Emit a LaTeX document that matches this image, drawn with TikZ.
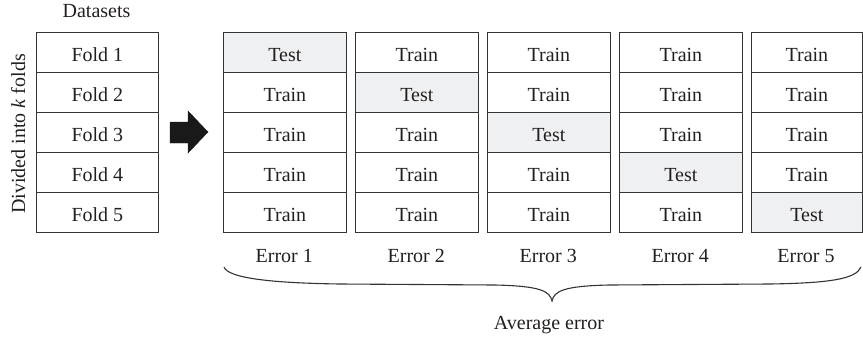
\documentclass[tikz,border=0pt]{standalone}
\usepackage{fontspec}
\setmainfont{Liberation Serif}
\definecolor{lineclr}{HTML}{333333}
\definecolor{testfill}{HTML}{EFF0F1}
\definecolor{txtclr}{HTML}{231F20}
\begin{document}
\begin{tikzpicture}[x=1pt,y=-1pt,
  cell/.style={draw=lineclr, line width=1.3pt, minimum width=122.5pt, minimum height=40pt,
    inner sep=0pt, text height=18pt, text depth=0pt, anchor=north west, text=txtclr,
    font=\fontsize{20}{24}\selectfont},
  narrowcell/.style={cell, minimum width=111.5pt},
  testcell/.style={fill=testfill},
  lbl/.style={text=txtclr, font=\fontsize{20}{24}\selectfont, inner sep=0pt, anchor=base}]
\useasboundingbox (0,0) rectangle (863,341);
% Datasets
\node[lbl] (ds) at (96.5,17) {Datasets};
\foreach \r in {1,...,5}{
  \node[cell] (f\r) at (35.5,{32+40*(\r-1)}) {Fold \r};
}
\node[lbl, rotate=90] (div) at (25,134) {Divided into \textit{k} folds};
% arrow
\filldraw[fill=black!90, draw=black!90] (170,122) coordinate (a1) -- (188,122) -- (188,111) -- (208,132) -- (188,153) -- (188,143) -- (170,143) -- cycle;
% columns
\foreach \c/\x in {1/223,2/355,3/487,4/619}{
  \foreach \r in {1,...,5}{
    \ifnum\c=\r
      \node[cell,testcell] (c\c\r) at (\x,{32+40*(\r-1)}) {Test};
    \else
      \node[cell] (c\c\r) at (\x,{32+40*(\r-1)}) {Train};
    \fi
  }
  \node[lbl] (e\c) at ({\x+61.25},262) {Error \c};
}
\foreach \r in {1,...,4}{
  \node[narrowcell] (c5\r) at (750.5,{32+40*(\r-1)}) {Train};
}
\node[narrowcell,testcell] (c55) at (750.5,192) {Test};
\node[lbl] (e5) at (806,262) {Error 5};
% brace
\draw[lineclr, line width=1.1pt]
  (224,267) .. controls (228,278) and (270,283) .. (340,284)
  -- (495,285) .. controls (540,286) and (550,291) .. (552,301)
  .. controls (554,291) and (564,286) .. (609,285)
  -- (770,284) .. controls (830,283) and (856,279) .. (861,267);
\node[lbl] (avg) at (549,329) {Average error};
\end{tikzpicture}
\end{document}
